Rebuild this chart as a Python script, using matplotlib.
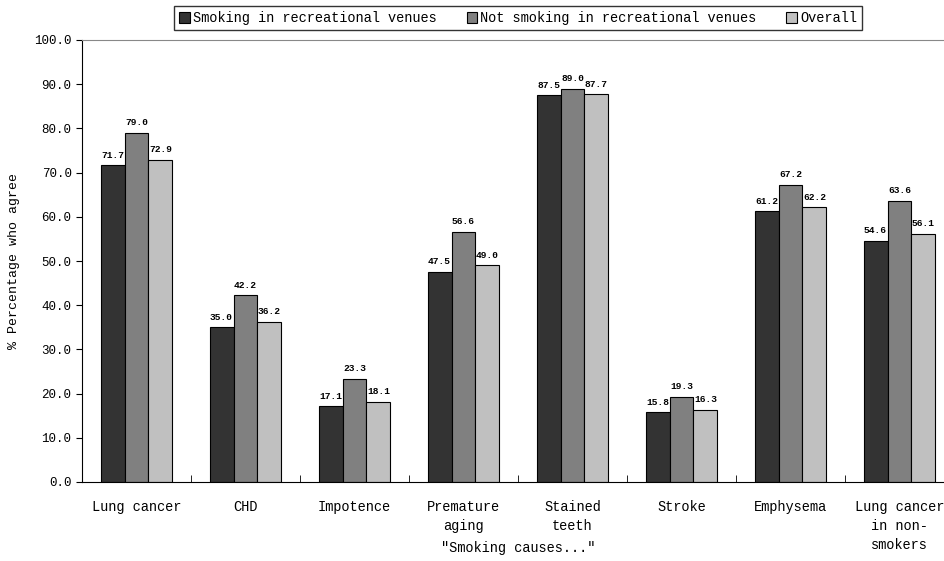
import matplotlib
matplotlib.use('Agg')
import matplotlib.pyplot as plt
import numpy as np

categories = ['Lung cancer', 'CHD', 'Impotence', 'Premature\naging', 'Stained\nteeth',
              'Stroke', 'Emphysema', 'Lung cancer\nin non-\nsmokers']
series_names = ['Smoking in recreational venues', 'Not smoking in recreational venues', 'Overall']
smoking = [71.7, 35.0, 17.1, 47.5, 87.5, 15.8, 61.2, 54.6]
not_smoking = [79.0, 42.2, 23.3, 56.6, 89.0, 19.3, 67.2, 63.6]
overall = [72.9, 36.2, 18.1, 49.0, 87.7, 16.3, 62.2, 56.1]
colors = ['#333333', '#808080', '#c0c0c0']

plt.rcParams['font.family'] = ['Liberation Mono', 'DejaVu Sans Mono']

fig = plt.figure(figsize=(9.44, 5.61), dpi=100)
ax = fig.add_axes([82 / 944, 79 / 561, 872 / 944, 442 / 561])

x = np.arange(len(categories))
w = 0.22
for i, (vals, name) in enumerate(zip([smoking, not_smoking, overall], series_names)):
    bars = ax.bar(x + (i - 1) * w, vals, w, color=colors[i], edgecolor='black',
                  linewidth=0.8, label=name)
    for b, v in zip(bars, vals):
        ax.annotate('%.1f' % v, (b.get_x() + b.get_width() / 2, v), xytext=(0, 4),
                    textcoords='offset points', ha='center', va='bottom',
                    fontsize=6.8, fontweight='bold')

ax.set_xlim(-0.5, len(categories) - 0.5)
ax.set_ylim(0, 100)
ax.set_yticks(np.arange(0, 101, 10))
ax.set_yticklabels(['%.1f' % v for v in np.arange(0, 101, 10)], fontsize=9)
ax.set_xticks(x)
ax.set_xticklabels(categories, fontsize=9.8, linespacing=1.45)
ax.set_xticks(np.arange(-0.5, len(categories), 1), minor=True)
ax.tick_params(axis='x', which='major', length=0, pad=13)
ax.tick_params(axis='x', which='minor', direction='in', length=5)
ax.tick_params(axis='y', direction='out', length=4)
for lab in ax.get_xticklabels():
    lab.set_verticalalignment('top')

ax.spines['right'].set_visible(False)
ax.spines['top'].set_color('#888888')

ax.set_ylabel('% Percentage who agree', fontsize=9.5, labelpad=10)
ax.set_xlabel('"Smoking causes..."', fontsize=9.8)
ax.xaxis.set_label_coords((518 - 82) / 872, -(548 - 482) / 442)
ax.xaxis.label.set_verticalalignment('center')

leg = ax.legend(loc='lower center', bbox_to_anchor=((518 - 82) / 872, 1.0), ncol=3,
                fontsize=9.8, frameon=True, fancybox=False, edgecolor='black',
                handlelength=0.8, handleheight=0.8, handletextpad=0.2, columnspacing=2.2,
                borderpad=0.35, borderaxespad=0.75)
leg.get_frame().set_linewidth(1.0)

fig.savefig('out.png', dpi=100)
